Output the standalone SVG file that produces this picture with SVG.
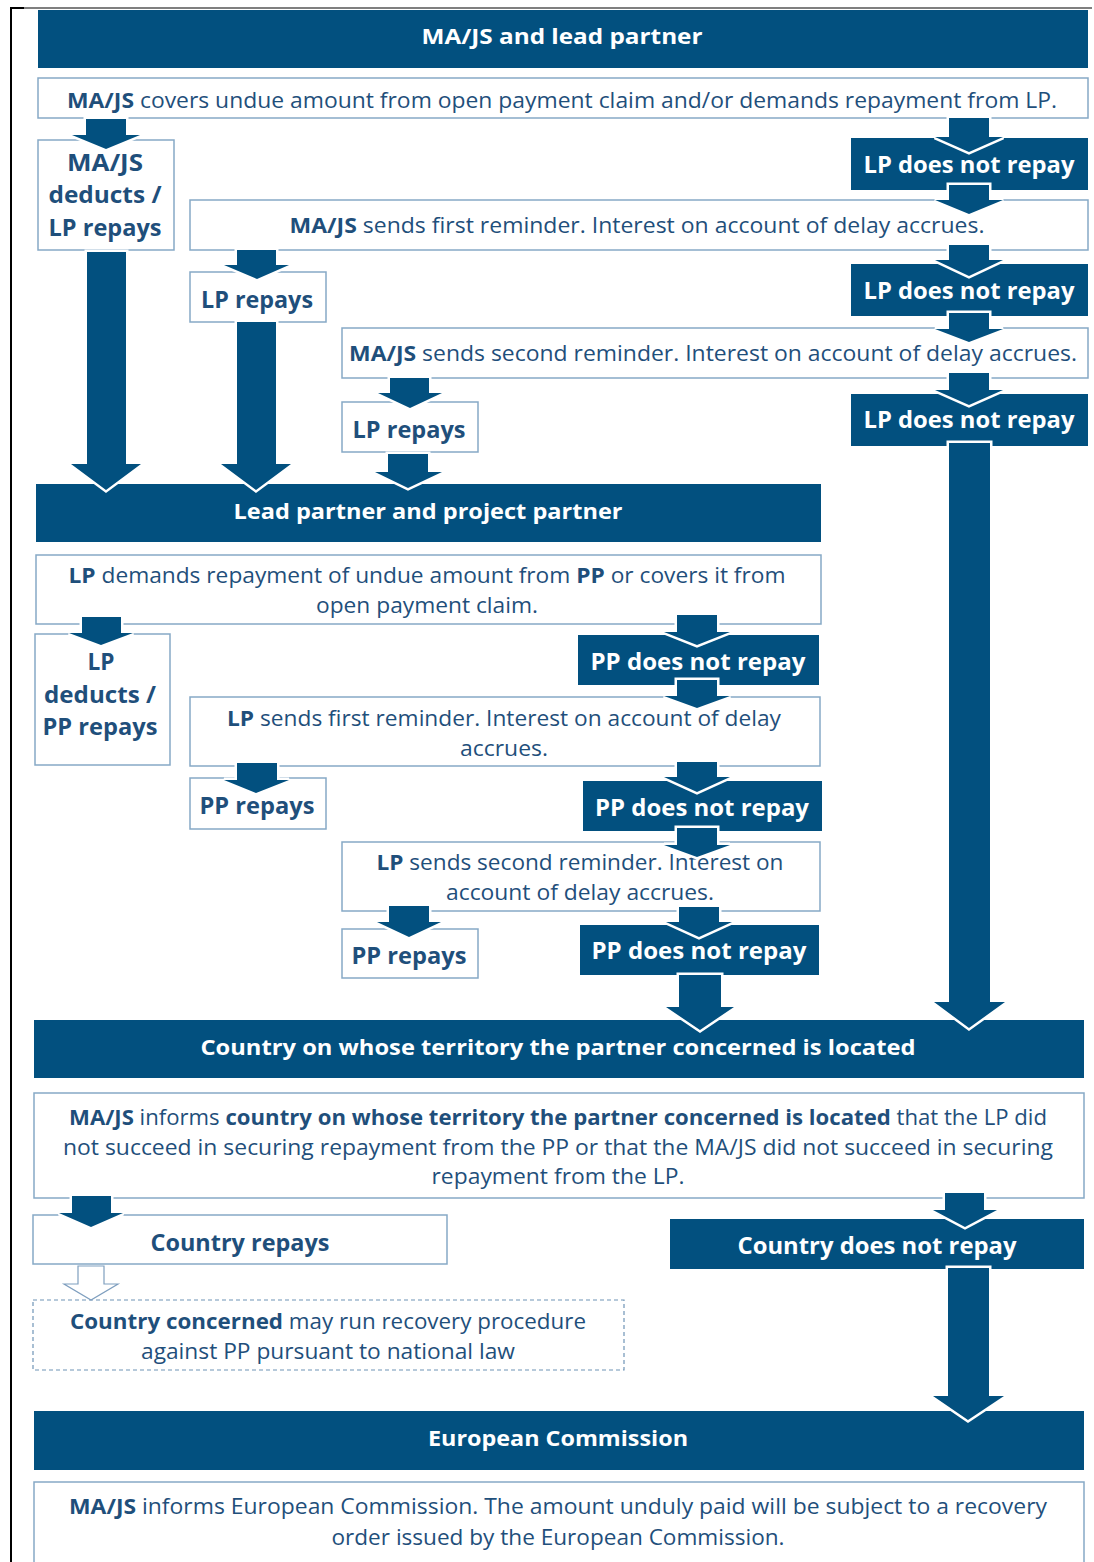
<svg xmlns="http://www.w3.org/2000/svg" width="1094" height="1562" viewBox="0 0 1094 1562">
  <style>
    .band { fill: #02507f; }
    .box { fill: #ffffff; stroke: #86a9c6; stroke-width: 1.5; }
    .dash { fill: #ffffff; stroke: #6f94b6; stroke-width: 1.2; stroke-dasharray: 4 3; }
    .arrow { fill: #02507f; stroke: #ffffff; stroke-width: 5; paint-order: stroke; stroke-linejoin: miter; }
    .hollow { fill: #ffffff; stroke: #7f9fbf; stroke-width: 1.2; }
    text { font-family: "Open Sans", "Liberation Sans", sans-serif; text-anchor: middle; }
    .t { fill: #1f4f7b; font-size: 21px; }
    .tb { fill: #1f4f7b; font-size: 23px; font-weight: 700; }
    .w { fill: #ffffff; font-size: 23px; font-weight: 700; }
    .h { fill: #ffffff; font-size: 22px; font-weight: 700; }
    .b { font-weight: 700; }
  </style>

  <!-- page frame -->
  <g id="frame" stroke="#000000">
    <line x1="11" y1="8" x2="11" y2="1562" stroke-width="2"/>
    <line x1="10" y1="8" x2="24" y2="8" stroke-width="2"/>
    <line x1="24" y1="8" x2="1092" y2="8" stroke-width="1.2"/>
  </g>

  <!-- MA/JS and lead partner level -->
  <g id="hdr-majs">
    <rect class="band" x="38" y="10" width="1050" height="58"/>
    <text class="h" x="562" y="44" textLength="281" lengthAdjust="spacingAndGlyphs">MA/JS and lead partner</text>
  </g>
  <g id="box-claim">
    <rect class="box" x="38" y="78" width="1050" height="40"/>
    <text class="t" x="562" y="108" textLength="990" lengthAdjust="spacingAndGlyphs"><tspan class="b">MA/JS</tspan> covers undue amount from open payment claim and/or demands repayment from LP.</text>
  </g>
  <g id="box-majs-deducts">
    <rect class="box" x="38" y="140" width="136" height="110"/>
    <text class="tb" x="105" y="171" textLength="76" lengthAdjust="spacingAndGlyphs">MA/JS</text>
    <text class="tb" x="105" y="203" textLength="113" lengthAdjust="spacingAndGlyphs">deducts /</text>
    <text class="tb" x="105" y="236" textLength="113" lengthAdjust="spacingAndGlyphs">LP repays</text>
  </g>
  <g id="lp-norepay-1">
    <rect class="band" x="851" y="138" width="237" height="52"/>
    <text class="w" x="969" y="173" textLength="211" lengthAdjust="spacingAndGlyphs">LP does not repay</text>
  </g>
  <g id="box-reminder-1">
    <rect class="box" x="190" y="200" width="898" height="50"/>
    <text class="t" x="637" y="233" textLength="695" lengthAdjust="spacingAndGlyphs"><tspan class="b">MA/JS</tspan> sends first reminder. Interest on account of delay accrues.</text>
  </g>
  <g id="lp-repays-1">
    <rect class="box" x="190" y="272" width="136" height="50"/>
    <text class="tb" x="257" y="308" textLength="112" lengthAdjust="spacingAndGlyphs">LP repays</text>
  </g>
  <g id="lp-norepay-2">
    <rect class="band" x="851" y="264" width="237" height="52"/>
    <text class="w" x="969" y="299" textLength="211" lengthAdjust="spacingAndGlyphs">LP does not repay</text>
  </g>
  <g id="box-reminder-2">
    <rect class="box" x="342" y="328" width="746" height="50"/>
    <text class="t" x="713" y="361" textLength="728" lengthAdjust="spacingAndGlyphs"><tspan class="b">MA/JS</tspan> sends second reminder. Interest on account of delay accrues.</text>
  </g>
  <g id="lp-norepay-3">
    <rect class="band" x="851" y="394" width="237" height="52"/>
    <text class="w" x="969" y="428" textLength="211" lengthAdjust="spacingAndGlyphs">LP does not repay</text>
  </g>
  <g id="lp-repays-2">
    <rect class="box" x="342" y="402" width="136" height="50"/>
    <text class="tb" x="409" y="438" textLength="113" lengthAdjust="spacingAndGlyphs">LP repays</text>
  </g>

  <!-- Lead partner and project partner level -->
  <g id="hdr-lp">
    <rect class="band" x="36" y="484" width="785" height="58"/>
    <text class="h" x="428" y="519" textLength="389" lengthAdjust="spacingAndGlyphs">Lead partner and project partner</text>
  </g>
  <g id="box-lp-demands">
    <rect class="box" x="36" y="555" width="785" height="69"/>
    <text class="t" x="427" y="583" textLength="717" lengthAdjust="spacingAndGlyphs"><tspan class="b">LP</tspan> demands repayment of undue amount from <tspan class="b">PP</tspan> or covers it from</text>
    <text class="t" x="427" y="613" textLength="222" lengthAdjust="spacingAndGlyphs">open payment claim.</text>
  </g>
  <g id="box-lp-deducts">
    <rect class="box" x="35" y="634" width="135" height="131"/>
    <text class="tb" x="101" y="670" textLength="27" lengthAdjust="spacingAndGlyphs">LP</text>
    <text class="tb" x="100" y="703" textLength="112" lengthAdjust="spacingAndGlyphs">deducts /</text>
    <text class="tb" x="100" y="735" textLength="115" lengthAdjust="spacingAndGlyphs">PP repays</text>
  </g>
  <g id="pp-norepay-1">
    <rect class="band" x="578" y="635" width="241" height="50"/>
    <text class="w" x="698" y="670" textLength="215" lengthAdjust="spacingAndGlyphs">PP does not repay</text>
  </g>
  <g id="box-lp-reminder-1">
    <rect class="box" x="190" y="697" width="630" height="69"/>
    <text class="t" x="504" y="726" textLength="554" lengthAdjust="spacingAndGlyphs"><tspan class="b">LP</tspan> sends first reminder. Interest on account of delay</text>
    <text class="t" x="504" y="756" textLength="88" lengthAdjust="spacingAndGlyphs">accrues.</text>
  </g>
  <g id="pp-repays-1">
    <rect class="box" x="190" y="778" width="136" height="51"/>
    <text class="tb" x="257" y="814" textLength="115" lengthAdjust="spacingAndGlyphs">PP repays</text>
  </g>
  <g id="pp-norepay-2">
    <rect class="band" x="583" y="781" width="239" height="50"/>
    <text class="w" x="702" y="816" textLength="214" lengthAdjust="spacingAndGlyphs">PP does not repay</text>
  </g>
  <g id="box-lp-reminder-2">
    <rect class="box" x="342" y="842" width="478" height="69"/>
    <text class="t" x="580" y="870" textLength="407" lengthAdjust="spacingAndGlyphs"><tspan class="b">LP</tspan> sends second reminder. Interest on</text>
    <text class="t" x="580" y="900" textLength="268" lengthAdjust="spacingAndGlyphs">account of delay accrues.</text>
  </g>
  <g id="pp-repays-2">
    <rect class="box" x="342" y="929" width="136" height="49"/>
    <text class="tb" x="409" y="964" textLength="115" lengthAdjust="spacingAndGlyphs">PP repays</text>
  </g>
  <g id="pp-norepay-3">
    <rect class="band" x="580" y="925" width="239" height="50"/>
    <text class="w" x="699" y="959" textLength="215" lengthAdjust="spacingAndGlyphs">PP does not repay</text>
  </g>

  <!-- Country level -->
  <g id="hdr-country">
    <rect class="band" x="34" y="1020" width="1050" height="58"/>
    <text class="h" x="558" y="1055" textLength="715" lengthAdjust="spacingAndGlyphs">Country on whose territory the partner concerned is located</text>
  </g>
  <g id="box-country-informed">
    <rect class="box" x="34" y="1093" width="1050" height="105"/>
    <text class="t" x="558" y="1125" textLength="978" lengthAdjust="spacingAndGlyphs"><tspan class="b">MA/JS</tspan> informs <tspan class="b">country on whose territory the partner concerned is located</tspan> that the LP did</text>
    <text class="t" x="558" y="1155" textLength="990" lengthAdjust="spacingAndGlyphs">not succeed in securing repayment from the PP or that the MA/JS did not succeed in securing</text>
    <text class="t" x="558" y="1184" textLength="253" lengthAdjust="spacingAndGlyphs">repayment from the LP.</text>
  </g>
  <g id="country-repays">
    <rect class="box" x="33" y="1215" width="414" height="49"/>
    <text class="tb" x="240" y="1251" textLength="179" lengthAdjust="spacingAndGlyphs">Country repays</text>
  </g>
  <g id="country-norepay">
    <rect class="band" x="670" y="1219" width="414" height="50"/>
    <text class="w" x="877" y="1254" textLength="279" lengthAdjust="spacingAndGlyphs">Country does not repay</text>
  </g>
  <g id="box-recovery">
    <rect class="dash" x="33" y="1300" width="591" height="70"/>
    <text class="t" x="328" y="1329" textLength="516" lengthAdjust="spacingAndGlyphs"><tspan class="b">Country concerned</tspan> may run recovery procedure</text>
    <text class="t" x="328" y="1359" textLength="374" lengthAdjust="spacingAndGlyphs">against PP pursuant to national law</text>
  </g>

  <!-- European Commission level -->
  <g id="hdr-ec">
    <rect class="band" x="34" y="1411" width="1050" height="59"/>
    <text class="h" x="558" y="1446" textLength="260" lengthAdjust="spacingAndGlyphs">European Commission</text>
  </g>
  <g id="box-ec-informed">
    <rect class="box" x="34" y="1482" width="1050" height="92"/>
    <text class="t" x="558" y="1514" textLength="978" lengthAdjust="spacingAndGlyphs"><tspan class="b">MA/JS</tspan> informs European Commission. The amount unduly paid will be subject to a recovery</text>
    <text class="t" x="558" y="1545" textLength="453" lengthAdjust="spacingAndGlyphs">order issued by the European Commission.</text>
  </g>

  <!-- connectors: block arrows (shaft, then head) -->
  <g id="connectors">
    <!-- MA/JS level -->
    <path class="arrow" d="M86 119H126V135H140L106 149L72 135H86Z"/>
    <path class="arrow" d="M949 118H989V137H1003L969 152L935 137H949Z"/>
    <path class="arrow" d="M949 185H989V200H1003L969 214L935 200H949Z"/>
    <path class="arrow" d="M949 245H989V260H1003L969 276L935 260H949Z"/>
    <path class="arrow" d="M237 250H276V265H289L257 279L224 265H237Z"/>
    <path class="arrow" d="M949 313H989V329H1003L969 342L935 329H949Z"/>
    <path class="arrow" d="M949 373H989V390H1003L969 405L935 390H949Z"/>
    <path class="arrow" d="M390 378H429V393H442L410 408L378 393H390Z"/>
    <path class="arrow" d="M388 454H428V472H442L408 488L375 472H388Z"/>
    <path class="arrow" d="M87 252H126V464H141L106 490L71 464H87Z"/>
    <path class="arrow" d="M237 322H276V464H291L256 490L221 464H237Z"/>
    <path class="arrow" d="M949 443H990V1002H1005L969 1028L934 1002H949Z"/>
    <!-- lead partner level -->
    <path class="arrow" d="M82 617H121V633H133L101 645L69 633H82Z"/>
    <path class="arrow" d="M677 615H717V632H730L697 645L664 632H677Z"/>
    <path class="arrow" d="M677 680H717V696H730L697 708L664 696H677Z"/>
    <path class="arrow" d="M677 762H717V777H730L697 792L664 777H677Z"/>
    <path class="arrow" d="M237 763H277V780H289L256 793L224 780H237Z"/>
    <path class="arrow" d="M677 828H717V845H730L697 857L664 845H677Z"/>
    <path class="arrow" d="M679 907H719V922H732L699 937L666 922H679Z"/>
    <path class="arrow" d="M389 906H429V922H441L409 937L377 922H389Z"/>
    <path class="arrow" d="M679 975H721V1007H734L700 1030L666 1007H679Z"/>
    <!-- country level -->
    <path class="arrow" d="M72 1196H111V1213H123L91 1227L59 1213H72Z"/>
    <path class="arrow" d="M945 1193H984V1210H997L965 1227L933 1210H945Z"/>
    <path class="arrow" d="M948 1268H989V1396H1004L968 1420L933 1396H948Z"/>
    <path class="hollow" d="M78 1266H104V1284H118L91 1300L64 1284H78Z"/>
  </g>
</svg>
